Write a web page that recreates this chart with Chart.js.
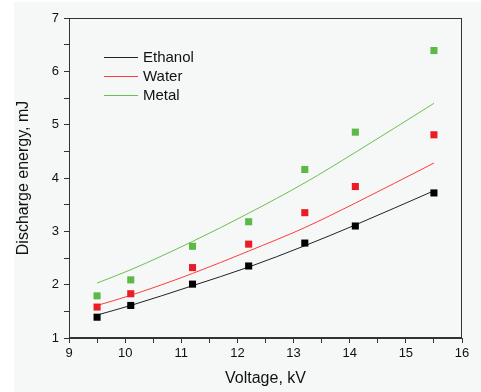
<!DOCTYPE html>
<html>
<head>
<meta charset="utf-8">
<script src="https://cdn.jsdelivr.net/npm/chart.js@4"></script>
<style>
  html, body { margin: 0; padding: 0; background: #fff; }
  #wrap { width: 481px; height: 392px; }
</style>
</head>
<body>
<div id="wrap"><canvas id="myChart" width="481" height="392"></canvas></div>
<script>
// voltage, kV
var voltage = [9.5, 10.1, 11.2, 12.2, 13.2, 14.1, 15.5];

// measured discharge energy, mJ
var ethanolPts = [1.39, 1.61, 2.01, 2.35, 2.78, 3.10, 3.72];
var waterPts = [1.58, 1.83, 2.32, 2.76, 3.35, 3.84, 4.81];
var metalPts = [1.79, 2.09, 2.72, 3.18, 4.16, 4.86, 6.39];

// fitted curves
var ethanolFit = [1.43, 1.61, 1.98, 2.33, 2.73, 3.12, 3.76];
var waterFit = [1.61, 1.80, 2.21, 2.63, 3.07, 3.53, 4.28];
var metalFit = [2.03, 2.28, 2.81, 3.34, 3.91, 4.48, 5.40];

var seriesNames = ['Ethanol', 'Water', 'Metal'];
var lineColors = ['#222222', '#ff3b3b', '#6cc04f'];
var markColors = ['#000000', '#ea1c24', '#5cb946'];

function xy(ys) {
    return voltage.map(function (v, i) { return { x: v, y: ys[i] }; });
}

var fits = [ethanolFit, waterFit, metalFit];
var pts = [ethanolPts, waterPts, metalPts];
var datasets = [];
for (var i = 0; i < 3; i++) {
    datasets.push({
        type: 'line',
        label: seriesNames[i],
        data: xy(fits[i]),
        borderColor: lineColors[i],
        borderWidth: 1,
        pointRadius: 0,
        cubicInterpolationMode: 'monotone',
        fill: false,
        order: 2
    });
}
for (var j = 0; j < 3; j++) {
    datasets.push({
        type: 'scatter',
        label: seriesNames[j] + ' data',
        data: xy(pts[j]),
        backgroundColor: markColors[j],
        borderWidth: 0,
        pointStyle: 'rect',
        pointRadius: 5,
        showLine: false,
        order: 1
    });
}

var bgPlugin = {
    id: 'bg',
    beforeDraw: function (chart) {
        var c = chart.ctx;
        c.save();
        c.fillStyle = '#f6f8f8';
        c.fillRect(14, 2, chart.width - 14, chart.height - 2);
        c.restore();
    },
    afterDraw: function (chart) {
        var c = chart.ctx, a = chart.chartArea;
        c.save();
        c.strokeStyle = '#333';
        c.lineWidth = 1;
        c.strokeRect(Math.round(a.left) + 0.5, Math.round(a.top) + 0.5,
            Math.round(a.right - a.left) - 1, Math.round(a.bottom - a.top) - 1);
        // legend inside plot
        c.font = '15px "Liberation Sans", Arial, sans-serif';
        c.textBaseline = 'middle';
        for (var k = 0; k < 3; k++) {
            var y = 57.5 + k * 19;
            c.strokeStyle = lineColors[k];
            c.beginPath();
            c.moveTo(104, y);
            c.lineTo(138, y);
            c.stroke();
            c.fillStyle = '#111';
            c.fillText(seriesNames[k], 143, y + 0.5);
        }
        c.restore();
    }
};

var ctx = document.getElementById('myChart').getContext('2d');
var myChart = new Chart(ctx, {
    type: 'scatter',
    data: { datasets: datasets },
    plugins: [bgPlugin],
    options: {
        responsive: false,
        animation: false,
        layout: { padding: { left: 0, top: 18, right: 19, bottom: 0 } },
        plugins: {
            legend: { display: false },
            tooltip: { enabled: false }
        },
        scales: {
            x: {
                min: 9,
                max: 16,
                afterFit: function (s) { s.height = 54; },
                ticks: {
                    stepSize: 0.5,
                    autoSkip: false,
                    maxRotation: 0,
                    padding: 3,
                    color: '#111',
                    font: { family: '"Liberation Sans", Arial, sans-serif', size: 13 },
                    callback: function (v) { return Number.isInteger(v) ? v : ''; }
                },
                grid: { drawOnChartArea: false, tickLength: 5, color: '#333' },
                border: { color: '#333', width: 1 },
                title: {
                    display: true,
                    text: 'Voltage, kV',
                    color: '#111',
                    font: { family: '"Liberation Sans", Arial, sans-serif', size: 16 },
                    padding: { top: 0, bottom: 4 }
                }
            },
            y: {
                min: 1,
                max: 7,
                afterFit: function (s) { s.width = 69; },
                ticks: {
                    stepSize: 0.5,
                    autoSkip: false,
                    padding: 5,
                    color: '#111',
                    font: { family: '"Liberation Sans", Arial, sans-serif', size: 13 },
                    callback: function (v) { return Number.isInteger(v) ? v : ''; }
                },
                grid: { drawOnChartArea: false, tickLength: 5, color: '#333' },
                border: { color: '#333', width: 1 },
                title: {
                    display: true,
                    text: 'Discharge energy, mJ',
                    color: '#111',
                    font: { family: '"Liberation Sans", Arial, sans-serif', size: 16 },
                    padding: { top: 14, bottom: 0 }
                }
            }
        }
    }
});
</script>
</body>
</html>
